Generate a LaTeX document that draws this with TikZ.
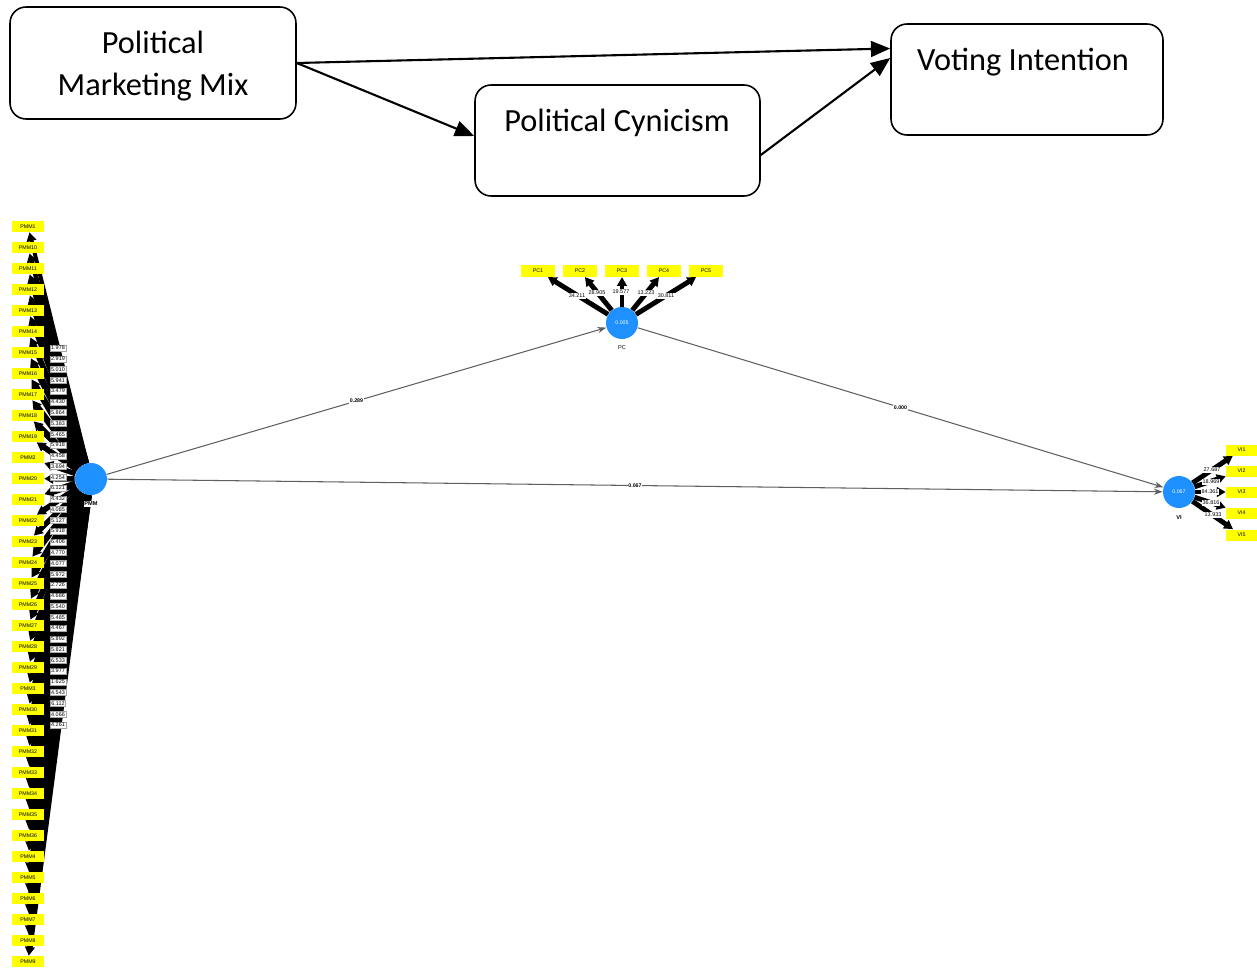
\documentclass[tikz,border=0pt]{standalone}
\usepackage{fontspec}
\setmainfont{Liberation Sans}
\newfontfamily\carlitofont{Carlito}
\usetikzlibrary{arrows.meta,backgrounds}
\definecolor{lvblue}{HTML}{1E90FF}
\definecolor{indyellow}{HTML}{FFFF00}
\definecolor{pathgray}{HTML}{606060}
\begin{document}
\begin{tikzpicture}[x=0.02cm,y=-0.02cm,
  topbox/.style={draw, line width=0.9pt, rounded corners=0.32cm, inner sep=0pt},
  toptext/.style={font=\carlitofont\fontsize{18.4}{24.2}\selectfont, align=center, inner sep=0pt},
  toparrow/.style={line width=1.2pt, -{Triangle[length=11pt,width=9pt]}},
  ind/.style={fill=indyellow, minimum width=0.64cm, minimum height=0.22cm, inner sep=0pt, font=\fontsize{3}{3.5}\selectfont},
  lv/.style={circle, fill=lvblue, minimum size=0.64cm, inner sep=0pt, text=white, font=\fontsize{3}{3.5}\selectfont},
  lvlab/.style={fill=white, inner sep=0.5pt, font=\bfseries\fontsize{3.2}{3.6}\selectfont},
  val/.style={fill=white, draw=gray!70, line width=0.2pt, inner sep=0.6pt, font=\fontsize{3.1}{3.5}\selectfont},
  oval/.style={fill=white, inner sep=0.5pt, font=\fontsize{3.1}{3.5}\selectfont},
  inarrow/.style={-{Triangle[length=5pt,width=5.5pt]}},
  pth/.style={draw=pathgray, line width=0.6pt, -{Stealth[length=5pt,width=3.5pt]}},
  pthlab/.style={fill=white, inner sep=0.5pt, font=\bfseries\fontsize{3}{3.5}\selectfont}
]
\useasboundingbox (0,0) rectangle (1257,970);

% ---------- top conceptual model ----------
\node[topbox, minimum width=5.72cm, minimum height=2.24cm] (b1) at (153,63) {};
\node[topbox, minimum width=5.70cm, minimum height=2.22cm] (b2) at (617.5,140.5) {};
\node[topbox, minimum width=5.44cm, minimum height=2.22cm] (b3) at (1027,79.5) {};
\node[toptext] (b1t) at (153,66) {Political\\Marketing Mix};
\node[toptext] (b2t) at (617,123) {Political Cynicism};
\node[toptext] (b3t) at (1023,62) {Voting Intention};
\draw[toparrow] (b1.east) -- ([yshift=0.62cm]b3.west);
\draw[toparrow] (b1.east) -- ([yshift=0.09cm]b2.west);
\draw[toparrow] ([yshift=-0.29cm]b2.east) -- ([yshift=0.43cm]b3.west);

% ---------- latent variables ----------
\node[lv] (pmm) at (91,479) {};
\node[lvlab] (pmml) at (91,504) {PMM};
\node[lv] (pc) at (622,323) {0.005};
\node[lvlab, font=\fontsize{3.2}{3.6}\selectfont] (pcl) at (622,348) {PC};
\node[lv] (vi) at (1179,492) {0.067};
\node[lvlab] (vil) at (1179,518) {VI};

% ---------- PMM indicators ----------
\foreach \n/\v [count=\i from 0] in {1/1.978,10/2.919,11/5.010,12/5.941,13/3.479,14/4.430,15/5.864,16/5.383,17/5.465,18/5.918,19/4.458,2/3.694,20/4.254,21/6.121,22/4.432,23/4.085,24/5.127,25/5.918,26/6.406,27/4.770,28/4.077,29/5.972,3/2.726,30/4.686,31/5.540,32/5.485,33/4.467,34/5.892,35/5.821,36/6.533,4/3.977,5/1.625,6/4.543,7/6.112,8/4.066,9/4.261}{
  \node[ind] (pmm\n) at (28,226.5+21*\i) {PMM\n};
  \pgfmathsetmacro\lw{(2.6+0.7*\v)*0.567}
  \begin{scope}[on background layer]
    \draw[inarrow, line width=\lw pt] (pmm) -- (pmm\n);
  \end{scope}
}
\foreach \n/\v [count=\i from 0] in {1/1.978,10/2.919,11/5.010,12/5.941,13/3.479,14/4.430,15/5.864,16/5.383,17/5.465,18/5.918,19/4.458,2/3.694,20/4.254,21/6.121,22/4.432,23/4.085,24/5.127,25/5.918,26/6.406,27/4.770,28/4.077,29/5.972,3/2.726,30/4.686,31/5.540,32/5.485,33/4.467,34/5.892,35/5.821,36/6.533,4/3.977,5/1.625,6/4.543,7/6.112,8/4.066,9/4.261}{
  \node[val] (vpmm\n) at (58,348+10.77*\i) {\v};
}

% ---------- PC indicators ----------
\foreach \n/\x/\v/\vx/\vy in {1/538/34.211/577/296,2/580/28.905/597/293,3/622/19.577/621/292,4/664/13.223/646/293,5/706/30.811/666/296}{
  \node[ind, minimum width=0.67cm, minimum height=0.23cm] (pc\n) at (\x,271) {PC\n};
  \begin{scope}[on background layer]
    \draw[inarrow, line width=2.8pt] (pc) -- (pc\n);
  \end{scope}
  \node[oval] (vpc\n) at (\vx,\vy) {\v};
}

% ---------- VI indicators ----------
\foreach \n/\y/\v/\vx/\vy in {1/450/27.687/1212/470,2/471/18.969/1211/482,3/492/84.361/1210/492,4/513/36.816/1211/503,5/535/13.933/1213/515}{
  \node[ind, minimum width=0.62cm, minimum height=0.22cm] (vi\n) at (1241.5,\y) {VI\n};
  \begin{scope}[on background layer]
    \draw[inarrow, line width=2.8pt] (vi) -- (vi\n);
  \end{scope}
  \node[oval] (vvi\n) at (\vx,\vy) {\v};
}

% ---------- structural paths ----------
\draw[pth] (pmm) -- node[pthlab] (p1) {0.289} (pc);
\draw[pth] (pc) -- node[pthlab] (p2) {0.000} (vi);
\draw[pth] (pmm) -- node[pthlab] (p3) {0.067} (vi);
\end{tikzpicture}
\end{document}
